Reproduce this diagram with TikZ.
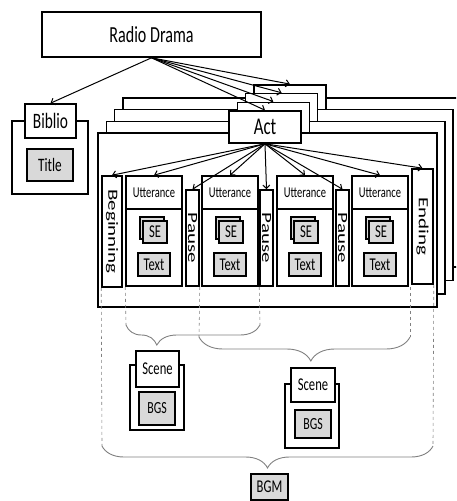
\documentclass[tikz,border=0pt]{standalone}
\usepackage{fontspec}
\newfontfamily\dfont{Carlito}[FakeStretch=0.7]
\newfontfamily\rfont{Carlito}[FakeStretch=1.5]
\usetikzlibrary{arrows.meta,decorations.pathreplacing}

\begin{document}
\begin{tikzpicture}[x=1pt,y=-1pt,>={Straight Barb[length=3.5pt,width=7pt]},
  box/.style={draw,line width=1.6pt,fill=white,inner sep=0pt},
  gbox/.style={box,fill=black!15},
  frm/.style={draw,line width=1.6pt,fill=white},
  link/.style={->,line width=1pt},
  guide/.style={gray,dashed,line width=0.6pt},
  brc/.style={gray,line width=0.9pt,decorate,decoration={brace,mirror,amplitude=#1}},
  fs/.style={font=\dfont\fontsize{#1}{#1}\selectfont},
  rs/.style={font=\rfont\fontsize{14}{14}\selectfont}]
  \useasboundingbox (0,0) rectangle (456,501);
  \clip (0,0) rectangle (456,501);

  \node[box,fs=23,minimum width=219pt,minimum height=45pt] (rd) at (151.5,34.5) {Radio Drama};

  \node[box,minimum width=76pt,minimum height=73pt] (bibf) at (50,157.5) {};
  \node[box,fs=22,minimum width=51pt,minimum height=34pt] (bib) at (50.5,121) {Biblio};
  \node[gbox,fs=19,minimum width=46pt,minimum height=32pt] (title) at (50,165) {Title};

  \foreach \k in {3,2,1}{
    \draw[frm] ({98+8.3*\k},{133-11.7*\k}) rectangle ({437+8*\k},{307-13.3*\k});
    \node[box,minimum width=72pt,minimum height=32pt] (act\k) at ({265+8.3*\k},{127-8.7*\k}) {};
  }
  \draw[frm] (98,133) rectangle (437,307);
  \node[box,fs=24,minimum width=72pt,minimum height=32pt] (act0) at (265,127) {Act};

  \draw[link] (rd.south) -- (bib.north);
  \foreach \k in {0,...,3} \draw[link] (rd.south) -- (act\k.north);

  \node[box,rs,minimum width=20pt,minimum height=111pt] (beg) at (112,231.5) {\rotatebox{-90}{Beginning}};
  \foreach \i/\x in {1/192.5,2/266.5,3/342.5}
    \node[box,rs,minimum width=13pt,minimum height=96pt] (p\i) at (\x,238) {\rotatebox{-90}{Pause}};
  \node[box,rs,minimum width=21pt,minimum height=115pt] (endg) at (422.5,226.5) {\rotatebox{-90}{Ending}};

  \foreach \i/\x in {1/154,2/230,3/305,4/380}{
    \node[box,minimum width=56pt,minimum height=110pt] (u\i) at (\x,231) {};
    \node[box,fs=15,minimum width=56pt,minimum height=33pt,anchor=north] (ul\i) at (u\i.north) {Utterance};
    \node[gbox,minimum width=24pt,minimum height=22pt] (seb\i) at ({\x-2},228) {};
    \node[gbox,fs=18,minimum width=24pt,minimum height=22pt] (se\i) at ({\x+1},232) {SE};
    \node[gbox,fs=18,minimum width=32pt,minimum height=23pt] (tx\i) at (\x,264.5) {Text};
  }
  \foreach \t in {beg,ul1,p1,ul2,p2,ul3,p3,ul4,endg} \draw[link] (act0.south) -- (\t.north);

  \coordinate (b1l) at (126,325); \coordinate (b1r) at (260,325);
  \coordinate (b2l) at (199,337); \coordinate (b2r) at (410,337);
  \coordinate (b3l) at (102,446); \coordinate (b3r) at (433,446);
  \draw[guide] (u1.south west) -- (b1l);
  \draw[guide] (p2.south west) -- (b1r);
  \draw[guide] (p1.south east) -- (b2l);
  \draw[guide] (b2r |- u4.south) -- (b2r);
  \draw[guide] (beg.south west) -- (b3l);
  \draw[guide] (endg.south east) -- (b3r);
  \draw[brc=20pt,decoration={aspect=0.23}] (b1l) -- (b1r);
  \draw[brc=24pt,decoration={aspect=0.53}] (b2l) -- (b2r);
  \draw[brc=22pt] (b3l) -- (b3r);

  \node[box,minimum width=54pt,minimum height=65pt] (sc1f) at (157,397.5) {};
  \node[box,fs=18,minimum width=43pt,minimum height=36pt] (sc1) at (157.5,369) {Scene};
  \node[gbox,fs=17,minimum width=36pt,minimum height=33pt] (bgs1) at (157,408.5) {BGS};
  \node[box,minimum width=54pt,minimum height=64pt] (sc2f) at (312,416) {};
  \node[box,fs=18,minimum width=44pt,minimum height=34pt] (sc2) at (313,385) {Scene};
  \node[gbox,fs=17,minimum width=36pt,minimum height=28pt] (bgs2) at (313,424) {BGS};
  \node[gbox,fs=18,minimum width=37pt,minimum height=26pt] (bgm) at (269.5,487) {BGM};
\end{tikzpicture}
\end{document}
